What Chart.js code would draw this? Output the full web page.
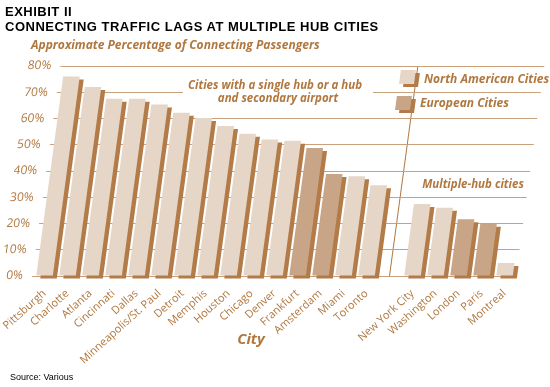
<!DOCTYPE html>
<html>
<head>
<meta charset="utf-8">
<script src="https://cdn.jsdelivr.net/npm/chart.js@4.4.1/dist/chart.umd.min.js"></script>
<style>
  html, body { margin: 0; padding: 0; background: #fff; }
  #wrap { position: relative; width: 550px; height: 387px; overflow: hidden; }
  #chart { position: absolute; left: 0; top: 0; }
  .head { position: absolute; left: 5px; font: bold 13px "Liberation Sans", Arial, sans-serif; letter-spacing: 0.5px; color: #000; white-space: nowrap; line-height: 14px; }
  .sub { position: absolute; left: 31px; top: 36px; font: italic bold 12px "Open Sans", sans-serif; color: #b0773f; white-space: nowrap; line-height: 17px; }
  .src { position: absolute; left: 10px; top: 372px; font: 9px "Liberation Sans", Arial, sans-serif; color: #000; white-space: nowrap; line-height: 11px; }
</style>
</head>
<body>
<div id="wrap">
  <canvas id="chart" width="550" height="387"></canvas>
  <div class="head" style="top:5px">EXHIBIT II</div>
  <div class="head" style="top:20px">CONNECTING TRAFFIC LAGS AT MULTIPLE HUB CITIES</div>
  <div class="sub">Approximate Percentage of Connecting Passengers</div>
  <div class="src">Source: Various</div>
</div>
<script>
// cities in drawing order, '' is the empty slot between the two groups
const cities = ['Pittsburgh', 'Charlotte', 'Atlanta', 'Cincinnati', 'Dallas', 'Minneapolis/St. Paul',
    'Detroit', 'Memphis', 'Houston', 'Chicago', 'Denver', 'Frankfurt', 'Amsterdam', 'Miami', 'Toronto',
    '', 'New York City', 'Washington', 'London', 'Paris', 'Montreal'];
const connectingPct = [76, 72, 67.5, 67.5, 65.3, 62.2, 60.2, 57.1, 54.2, 52, 51.5, 48.8, 38.9, 38, 34.6,
    null, 27.4, 26, 21.6, 19.9, 5];
const region = ['NA', 'NA', 'NA', 'NA', 'NA', 'NA', 'NA', 'NA', 'NA', 'NA', 'NA', 'EU', 'EU', 'NA', 'NA',
    '', 'NA', 'NA', 'EU', 'EU', 'NA'];
const seriesNames = ['North American Cities', 'European Cities'];
const yMin = 0, yMax = 80, yStep = 10;

const tan = '#b0773f';
const sideColor = '#b37b47';
const naColor = '#e5d6c8';
const euColor = '#c9a588';
const gridColor = '#c9a07c';
const skew = 0.135;
const gapIndex = cities.indexOf('');

const naData = connectingPct.map((v, i) => region[i] === 'NA' ? v : null);
const euData = connectingPct.map((v, i) => region[i] === 'EU' ? v : null);

// slant the plot area (grid, y labels, bars) around the 0% line
const slantPlugin = {
    id: 'slant',
    beforeDraw(chart) {
        const ctx = chart.ctx;
        const base = chart.scales.y.getPixelForValue(0);
        ctx.save();
        ctx.transform(1, 0, -skew, 1, skew * base, 0);
    },
    beforeDatasetsDraw(chart) {
        const ctx = chart.ctx;
        ctx.shadowColor = sideColor;
        ctx.shadowOffsetX = 4;
        ctx.shadowOffsetY = 3;
        ctx.shadowBlur = 0;
    },
    afterDatasetsDraw(chart) {
        chart.ctx.restore();
    },
    afterDraw(chart) {
        const ctx = chart.ctx;
        ctx.save();
        // white patch behind the group note
        ctx.fillStyle = '#fff';
        ctx.fillRect(183, 79, 190, 27);

        ctx.fillStyle = tan;
        ctx.textAlign = 'center';
        ctx.textBaseline = 'middle';
        ctx.font = 'italic bold 11.5px "Open Sans"';
        ctx.fillText('Cities with a single hub or a hub', 275, 86);
        ctx.fillText('and secondary airport', 278, 99);
        ctx.fillText('Multiple-hub cities', 473, 185);

        ctx.font = 'italic bold 15px "Open Sans"';
        ctx.fillText('City', 251, 340);

        // legend
        const spots = [{ x: 399, y: 70, tx: 424, ty: 80 }, { x: 395, y: 96, tx: 420, ty: 104 }];
        ctx.textAlign = 'left';
        ctx.font = 'italic bold 12px "Open Sans"';
        chart.data.datasets.forEach((ds, i) => {
            const p = spots[i];
            ctx.save();
            ctx.translate(p.x, p.y + 14);
            ctx.transform(1, 0, -skew, 1, 0, 0);
            ctx.shadowColor = sideColor;
            ctx.shadowOffsetX = 4;
            ctx.shadowOffsetY = 3;
            ctx.fillStyle = ds.backgroundColor;
            ctx.fillRect(0, -14, 15, 14);
            ctx.restore();
            ctx.fillStyle = tan;
            ctx.fillText(ds.label, p.tx, p.ty);
        });
        ctx.restore();
    }
};

new Chart(document.getElementById('chart'), {
    type: 'bar',
    data: {
        labels: cities,
        datasets: [
            { label: seriesNames[0], data: naData, backgroundColor: naColor },
            { label: seriesNames[1], data: euData, backgroundColor: euColor }
        ]
    },
    options: {
        responsive: false,
        animation: false,
        events: [],
        clip: false,
        skipNull: true,
        datasets: { bar: { categoryPercentage: 1, barPercentage: 0.72, borderWidth: 0 } },
        layout: { padding: { left: 0, top: 66, right: 34, bottom: 0 } },
        plugins: { legend: { display: false }, title: { display: false }, tooltip: { enabled: false } },
        scales: {
            x: {
                type: 'category',
                offset: true,
                grid: { display: false },
                border: { display: false },
                ticks: {
                    z: 1,
                    autoSkip: false,
                    maxRotation: 42,
                    minRotation: 42,
                    padding: 3,
                    color: tan,
                    font: { family: 'Open Sans', size: 11 }
                },
                afterFit(scale) { scale.height = 111; }
            },
            x2: {
                type: 'category',
                position: 'bottom',
                offset: true,
                border: { display: false },
                ticks: { display: false },
                grid: {
                    offset: false,
                    drawTicks: false,
                    lineWidth: 1,
                    color: c => c.index === gapIndex ? tan : 'rgba(0,0,0,0)'
                },
                afterFit(scale) { scale.height = 0; }
            },
            y: {
                min: yMin,
                max: yMax,
                border: { display: false },
                grid: { color: gridColor, lineWidth: 1, tickLength: 1 },
                ticks: {
                    stepSize: yStep,
                    padding: 9,
                    color: tan,
                    font: { family: 'Open Sans', size: 12 },
                    callback: v => v + '%'
                },
                afterFit(scale) { scale.width = 33; }
            }
        }
    },
    plugins: [slantPlugin]
});
</script>
</body>
</html>
